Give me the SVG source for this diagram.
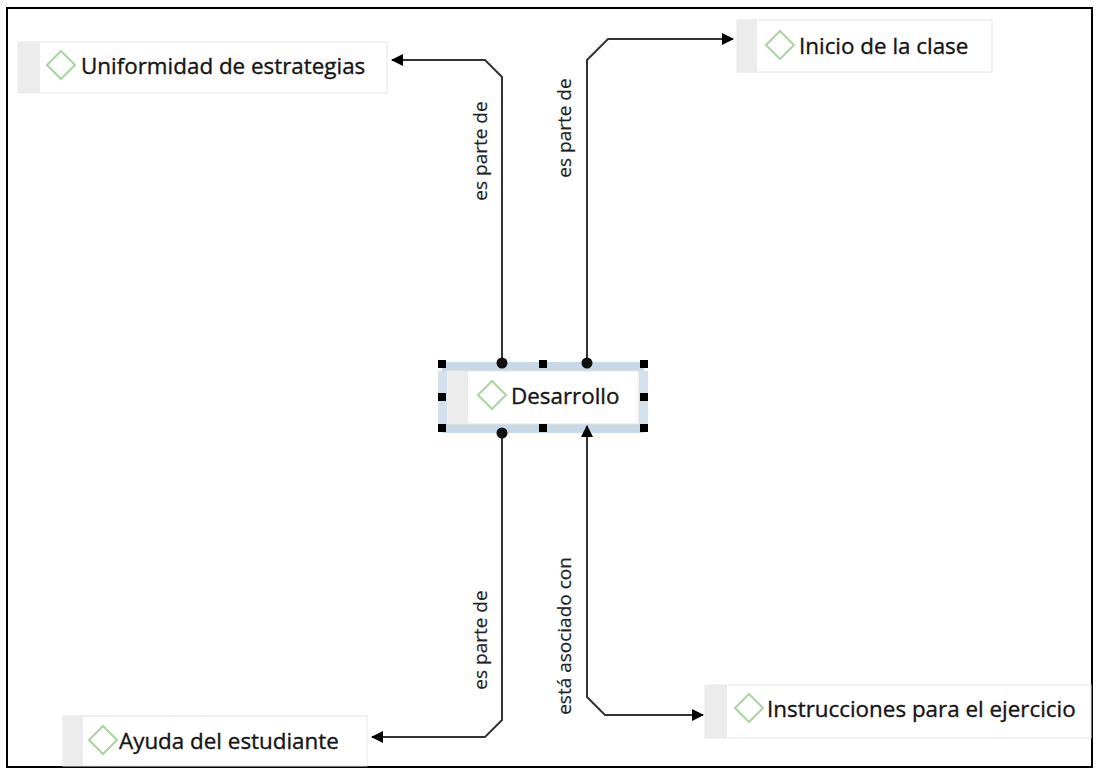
<svg xmlns="http://www.w3.org/2000/svg" width="1099" height="775" viewBox="0 0 1099 775">
<style>
.frame{fill:#fff;stroke:#000;stroke-width:2}
.box{fill:#fff;stroke:#e6e6e6;stroke-width:1}
.strip{fill:#ececec}
.dia{fill:#fff;stroke:#a9d49f;stroke-width:2}
.t{font-family:"Open Sans","Noto Sans",sans-serif;font-size:22.4px;fill:#151515;stroke:#151515;stroke-width:0.35;dominant-baseline:central}
.lbl{font-family:"Open Sans","Noto Sans",sans-serif;font-size:19px;fill:#222;stroke:#222;stroke-width:0.2;text-anchor:middle;dominant-baseline:central}
.conn{fill:none;stroke:#333;stroke-width:2}
.dot{fill:#111}
.h{fill:#000}
.sel{fill:#c9d8e6}
</style>
<defs>
<marker id="arr" viewBox="0 0 12 12" refX="11" refY="6" markerWidth="12" markerHeight="12" markerUnits="userSpaceOnUse" orient="auto-start-reverse">
<path d="M0,0 L12,6 L0,12 Z" fill="#000"/>
</marker>
</defs>
<rect class="frame" x="7" y="8" width="1085" height="759"/>

<g id="n-uniformidad">
<rect class="box" x="18" y="42" width="369" height="51"/>
<rect class="strip" x="18" y="42" width="22" height="51"/>
<path class="dia" d="M61,51 L75,65 L61,79 L47,65 Z"/>
<text class="t" x="81" y="65">Uniformidad de estrategias</text>
</g>

<g id="n-inicio">
<rect class="box" x="737" y="20" width="255" height="52"/>
<rect class="strip" x="737" y="20" width="20" height="52"/>
<path class="dia" d="M780,31 L794,45 L780,59 L766,45 Z"/>
<text class="t" x="799" y="45">Inicio de la clase</text>
</g>

<g id="n-desarrollo">
<rect class="sel" x="442" y="362" width="202" height="9"/>
<rect class="sel" x="442" y="424" width="202" height="9"/>
<rect class="sel" x="438" y="371" width="9" height="53" opacity="0.8"/>
<rect class="sel" x="639" y="371" width="9" height="53" opacity="0.8"/>
<rect class="box" x="448" y="371" width="190" height="53"/>
<rect class="strip" x="448" y="371" width="20" height="53"/>
<path class="dia" d="M492,381 L506,395 L492,409 L478,395 Z"/>
<text class="t" x="511" y="395">Desarrollo</text>
<rect class="h" x="438" y="360" width="8" height="8"/>
<rect class="h" x="539" y="360" width="8" height="8"/>
<rect class="h" x="640" y="360" width="8" height="8"/>
<rect class="h" x="438" y="393" width="8" height="8"/>
<rect class="h" x="640" y="393" width="8" height="8"/>
<rect class="h" x="438" y="424" width="8" height="8"/>
<rect class="h" x="539" y="424" width="8" height="8"/>
<rect class="h" x="640" y="424" width="8" height="8"/>
</g>

<g id="n-ayuda">
<rect class="box" x="63" y="716" width="304" height="50"/>
<rect class="strip" x="63" y="716" width="20" height="50"/>
<path class="dia" d="M103,726 L117,740 L103,754 L89,740 Z"/>
<text class="t" x="119" y="740">Ayuda del estudiante</text>
</g>

<g id="n-instrucciones">
<rect class="box" x="705" y="685" width="386" height="53"/>
<rect class="strip" x="705" y="685" width="22" height="53"/>
<path class="dia" d="M749,694 L763,708 L749,722 L735,708 Z"/>
<text class="t" x="767" y="708">Instrucciones para el ejercicio</text>
</g>

<g id="connectors">
<path class="conn" d="M502,362 V77 L485,60 H392" marker-end="url(#arr)"/>
<circle class="dot" cx="502" cy="363" r="5.5"/>
<path class="conn" d="M587,362 V60 L608,39 H733" marker-end="url(#arr)"/>
<circle class="dot" cx="587" cy="363" r="5.5"/>
<path class="conn" d="M502,433 V720 L485,737 H372" marker-end="url(#arr)"/>
<circle class="dot" cx="502" cy="433" r="5.5"/>
<path class="conn" d="M587,426 V697 L605,715 H703" marker-start="url(#arr)" marker-end="url(#arr)"/>
<text class="lbl" transform="translate(480,151) rotate(-90)">es parte de</text>
<text class="lbl" transform="translate(564,128) rotate(-90)">es parte de</text>
<text class="lbl" transform="translate(480,640) rotate(-90)">es parte de</text>
<text class="lbl" transform="translate(564,636) rotate(-90)">está asociado con</text>
</g>
</svg>
